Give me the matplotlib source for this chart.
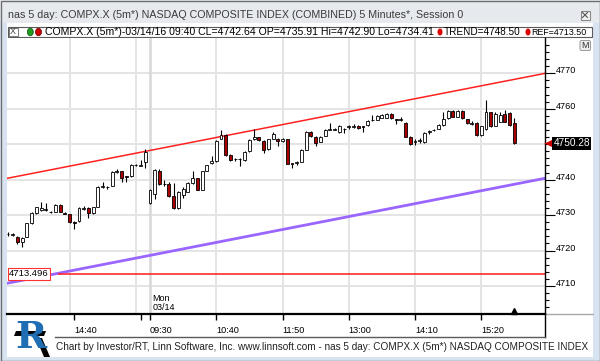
import matplotlib
matplotlib.use('Agg')
import matplotlib.pyplot as plt
from matplotlib.patches import Rectangle, Polygon, Ellipse, FancyBboxPatch
import numpy as np

plt.rcParams['font.family'] = ['Liberation Sans', 'DejaVu Sans']

# ---------------- data ----------------
bar_index = list(range(-30, 78))   # 5-minute bars; 0 = Monday 09:30
opens = [
    4724.6, 4724.5, 4723.9, 4722.5, 4723.9, 4727.7, 4730.5, 4731.4, 4731.3, 4731.0,
    4731.0, 4732.8, 4730.7, 4730.2, 4728.0, 4728.3, 4731.7, 4732.1, 4730.5, 4732.4,
    4737.8, 4737.9, 4738.3, 4742.1, 4742.3, 4740.9, 4741.0, 4744.1, 4743.9, 4745.1,
    4733.5, 4735.91, 4742.4, 4738.7, 4738.7, 4735.4, 4732.0, 4735.8, 4736.6, 4739.0,
    4740.4, 4737.2, 4742.4, 4744.6, 4745.3, 4751.6, 4752.6, 4747.0, 4745.7, 4745.9,
    4745.5, 4748.1, 4751.6, 4751.9, 4751.0, 4748.6, 4751.6, 4751.5, 4750.9, 4751.4,
    4744.6, 4744.6, 4745.1, 4748.4, 4753.4, 4752.1, 4750.7, 4752.4, 4754.1, 4754.1,
    4753.5, 4754.4, 4754.8, 4754.9, 4755.2, 4755.1, 4755.3, 4756.7, 4756.9, 4757.5,
    4757.5, 4758.6, 4757.0, 4756.9, 4756.1, 4752.1, 4750.6, 4751.0, 4750.7, 4753.4,
    4753.9, 4754.4, 4755.4, 4757.3, 4759.5, 4757.8, 4759.5, 4757.0, 4755.8, 4756.1,
    4752.6, 4754.2, 4759.0, 4755.2, 4756.4, 4758.6, 4758.8, 4755.9]
highs = [
    4725.1, 4725.0, 4724.2, 4723.8, 4727.9, 4730.9, 4732.4, 4733.8, 4733.3, 4731.2,
    4733.0, 4733.0, 4730.9, 4730.4, 4728.2, 4732.3, 4732.6, 4732.3, 4732.4, 4738.2,
    4739.4, 4738.1, 4742.3, 4743.0, 4742.5, 4741.1, 4744.3, 4744.4, 4745.5, 4748.6,
    4737.4, 4742.90, 4743.0, 4739.9, 4739.2, 4739.0, 4736.8, 4737.9, 4739.2, 4742.3,
    4740.6, 4742.4, 4744.2, 4746.8, 4751.2, 4754.0, 4752.8, 4747.2, 4746.1, 4746.1,
    4748.1, 4751.4, 4754.4, 4752.1, 4751.2, 4751.6, 4753.4, 4751.7, 4751.7, 4751.6,
    4744.8, 4745.3, 4748.6, 4753.7, 4753.8, 4752.2, 4752.3, 4754.3, 4755.9, 4754.5,
    4755.4, 4754.5, 4755.5, 4755.6, 4755.4, 4755.2, 4756.8, 4758.2, 4758.2, 4758.5,
    4758.8, 4758.8, 4757.2, 4757.6, 4756.4, 4752.2, 4751.5, 4751.8, 4753.5, 4754.1,
    4754.3, 4755.6, 4759.0, 4759.7, 4759.7, 4759.7, 4759.7, 4757.2, 4756.5, 4756.3,
    4755.2, 4762.4, 4759.2, 4759.0, 4759.2, 4759.7, 4759.0, 4757.4]
lows = [
    4724.2, 4724.0, 4721.8, 4720.9, 4723.7, 4727.5, 4730.3, 4731.2, 4731.1, 4730.6,
    4730.8, 4730.8, 4730.2, 4727.8, 4726.0, 4728.1, 4731.5, 4729.1, 4730.3, 4732.2,
    4737.6, 4737.5, 4738.1, 4741.9, 4739.2, 4739.4, 4740.8, 4743.9, 4743.8, 4743.4,
    4733.0, 4734.41, 4738.5, 4738.3, 4735.2, 4731.8, 4731.8, 4734.9, 4736.4, 4738.8,
    4737.0, 4737.0, 4742.3, 4744.4, 4745.1, 4751.4, 4746.8, 4745.3, 4745.3, 4743.8,
    4745.3, 4747.9, 4751.3, 4751.0, 4747.5, 4748.4, 4751.4, 4749.5, 4750.7, 4744.3,
    4743.3, 4744.1, 4744.9, 4748.3, 4752.1, 4749.5, 4750.5, 4752.2, 4754.0, 4753.9,
    4753.3, 4753.2, 4754.4, 4754.5, 4754.4, 4753.4, 4755.1, 4756.5, 4756.7, 4757.3,
    4757.3, 4757.1, 4755.8, 4756.5, 4751.9, 4749.7, 4749.8, 4750.4, 4750.2, 4753.0,
    4753.7, 4754.2, 4755.2, 4757.1, 4757.6, 4757.6, 4757.1, 4755.7, 4755.3, 4752.4,
    4752.4, 4754.0, 4754.8, 4755.0, 4756.2, 4756.2, 4755.2, 4750.1]
closes = [
    4724.7, 4724.6, 4722.5, 4723.6, 4727.7, 4730.7, 4732.2, 4732.1, 4731.7, 4730.9,
    4732.8, 4731.0, 4730.4, 4728.0, 4727.9, 4732.1, 4732.1, 4730.5, 4732.2, 4738.0,
    4738.3, 4737.8, 4742.1, 4742.3, 4740.6, 4740.8, 4744.1, 4744.2, 4744.0, 4747.7,
    4737.2, 4742.64, 4738.7, 4738.9, 4735.4, 4732.0, 4736.6, 4737.5, 4739.0, 4740.4,
    4737.2, 4742.3, 4744.1, 4745.2, 4751.0, 4752.6, 4747.0, 4745.5, 4745.9, 4745.8,
    4747.9, 4751.2, 4751.9, 4751.2, 4748.4, 4751.4, 4752.8, 4750.9, 4751.5, 4744.5,
    4744.4, 4745.0, 4748.4, 4753.5, 4752.4, 4750.4, 4752.1, 4754.1, 4754.2, 4754.3,
    4755.2, 4754.2, 4755.0, 4755.1, 4754.6, 4754.9, 4756.6, 4756.9, 4758.0, 4758.3,
    4758.6, 4757.3, 4756.8, 4757.1, 4752.1, 4750.0, 4750.8, 4751.2, 4753.2, 4753.6,
    4754.1, 4755.4, 4757.0, 4759.5, 4757.8, 4759.5, 4757.3, 4755.9, 4756.0, 4752.6,
    4755.0, 4759.0, 4755.0, 4758.6, 4758.3, 4756.4, 4755.4, 4750.28]

time_tick_pos = [-16, 0, 14, 28, 42, 56, 70]
time_tick_labels = ['14:40', '09:30', '10:40', '11:50', '13:00', '14:10', '15:20']
minor_time_ticks = [-2]
grid_x = [-17, -3, 14, 28, 42, 56, 70]
day_break = 0
price_ticks = [4710, 4720, 4730, 4740, 4750, 4760, 4770]
price_labels = ['4710', '4720', '4730', '4740', '', '4760', '4770']  # 4750 hidden by price tag
price_minor = list(range(4704, 4780, 2))

trend_upper = [(1, 4748.50), (77, 4768.3)]
trend_lower = [(1, 4718.9), (77, 4738.7)]
ref_level = 4713.496
ref_start = -19.4
last_price = 4750.28

title = "nas 5 day: COMPX.X (5m*) NASDAQ COMPOSITE INDEX (COMBINED) 5 Minutes*, Session 0"
legend_text = "COMPX.X (5m*)-03/14/16 09:40 CL=4742.64 OP=4735.91 Hi=4742.90 Lo=4734.41"
trend_text = "TREND=4748.50"
ref_text = "REF=4713.50"
footer = ("Chart by Investor/RT, Linn Software, Inc. www.linnsoft.com - nas 5 day: "
          "COMPX.X (5m*) NASDAQ COMPOSITE INDEX")

# ---------------- figure / window chrome ----------------
W, H = 600, 361
fig = plt.figure(figsize=(W / 100, H / 100), dpi=100)
fig.patch.set_facecolor('#e3e7ec')
bg = fig.add_axes([0, 0, 1, 1], zorder=0)
bg.set_xlim(0, W)
bg.set_ylim(H, 0)
bg.axis('off')

bg.add_patch(Rectangle((0, 0), W, 23, fc='#e6e9ee', ec='none'))
bg.add_patch(Rectangle((0, 23), 7, H - 23, fc='#d8e3f2', ec='none'))
bg.add_patch(Rectangle((593, 23), 7, H - 23, fc='#d8e3f2', ec='none'))
bg.add_patch(Rectangle((0, 357), W, 4, fc='#d8e3f2', ec='none'))
bg.add_patch(Rectangle((7, 23), 586, 334, fc='white', ec='none'))
bg.add_patch(Rectangle((0.5, 0.5), W - 1, H - 1, fill=False, ec='#6f6f6f', lw=1))

bg.text(8, 15.5, title, fontsize=7.65, color='#3a3a3a', va='center', ha='left')
# close button
bg.add_patch(Rectangle((580.5, 10.5), 9, 9, fc='#f2f2f2', ec='#8a8a8a', lw=0.8))
bg.plot([582.5, 587.5], [12.5, 17.5], color='#555', lw=0.8)
bg.plot([582.5, 587.5], [17.5, 12.5], color='#555', lw=0.8)

# legend strip
bg.add_patch(Rectangle((7.5, 26.5), 584, 10.5, fc='white', ec='#5a5a5a', lw=0.8))
bg.add_patch(Rectangle((8.5, 27.5), 9, 8.5, fc='white', ec='#7a7a7a', lw=0.7))
bg.text(13, 32, 'X', fontsize=6.5, color='#444', ha='center', va='center')
bg.add_patch(Ellipse((30.3, 32), 6, 7.5, fc='#1e9e1e', ec='#0a4a0a', lw=0.5))
bg.add_patch(Ellipse((38.5, 32), 6, 7.5, fc='#d00000', ec='#600000', lw=0.5))
bg.text(45, 32.3, legend_text, fontsize=7.55, color='black', va='center', ha='left')
bg.add_patch(Ellipse((440, 32), 5, 7, fc='#e00000', ec='none'))
bg.text(443.5, 32.3, trend_text, fontsize=7.2, color='black', va='center', ha='left')
bg.add_patch(Ellipse((528, 32), 5, 7, fc='#e00000', ec='none'))
bg.text(531.5, 32.3, ref_text, fontsize=6.4, color='black', va='center', ha='left')

# M button
bg.add_patch(FancyBboxPatch((580, 40.5), 10.5, 10, boxstyle='round,pad=0,rounding_size=1.5',
                            fc='#ececec', ec='#9a9a9a', lw=0.7, zorder=5))
bg.text(585.3, 45.8, 'M', fontsize=6.5, color='#333', ha='center', va='center', zorder=6)

# lower frame lines
bg.plot([545, 545], [314, 337], color='black', lw=1)
bg.plot([545, 593], [314.3, 314.3], color='#a8a8a8', lw=1)
bg.plot([55, 545], [336.7, 336.7], color='#5a5a5a', lw=1)
bg.text(56, 347, footer, fontsize=7.2, color='#222', va='center', ha='left')

# logo
bg.add_patch(Polygon([[16, 331], [46, 331], [44, 336], [14, 336]], closed=True, fc='black', ec='none'))
bg.add_patch(Polygon([[36, 338], [42, 338], [50, 357], [44, 357]], closed=True, fc='black', ec='none'))
bg.text(31, 337, 'R', fontsize=27, color='#1f6db3', fontweight='bold', family='DejaVu Serif',
        ha='center', va='center')

# ---------------- main chart axes ----------------
ax = fig.add_axes([7 / W, 1 - 314 / H, 538 / W, 276 / H], zorder=2)
ax.set_facecolor('white')
ax.set_xlim(-30.21, 83.46)
ax.set_ylim(4702.1, 4779.96)

for s in ['left', 'top']:
    ax.spines[s].set_visible(False)
ax.spines['right'].set_linewidth(1)
ax.spines['bottom'].set_linewidth(1.6)

# grid
for v in price_ticks:
    ax.axhline(v, color='#e4e4e4', lw=1.4, zorder=0)
for gx in grid_x:
    ax.axvline(gx, color='#e4e4e4', lw=1.4, zorder=0)
ax.axvline(day_break, color='#dadada', lw=2, zorder=0)

# trend lines
ax.axline(trend_upper[0], trend_upper[1], color='#ff2020', lw=1.1, zorder=2)
ax.axline(trend_lower[0], trend_lower[1], color='#9a66ff', lw=2.0, zorder=2)
ax.hlines(ref_level, ref_start, 83.46, color='#ff1a1a', lw=1.1, zorder=2)
ax.text(-29.8, ref_level, '4713.496', fontsize=6.8, color='black', va='center', ha='left',
        bbox=dict(fc='white', ec='#ff3030', lw=0.8, pad=1.0), zorder=6)

# candles
x = np.array(bar_index)
o = np.array(opens); h = np.array(highs); l = np.array(lows); c = np.array(closes)
up = c >= o
ax.vlines(x, l, h, color='black', lw=0.8, zorder=3)
ax.bar(x, np.maximum(np.abs(c - o), 0.08), bottom=np.minimum(o, c), width=0.62,
       color=['white' if u else '#a80000' for u in up], edgecolor='black',
       linewidth=0.6, zorder=4)

# Mon label
ax.text(0.55, 4706.5, 'Mon', fontsize=6.5, color='black', va='center', ha='left')
ax.text(0.55, 4703.9, '03/14', fontsize=6.5, color='black', va='center', ha='left')

# last-bar marker
ax.plot([bar_index[-1]], [4702.9], marker='^', ms=4.5, color='black', clip_on=False, zorder=6)

# right price axis
ax.yaxis.tick_right()
ax.set_yticks(price_ticks)
ax.set_yticklabels(price_labels)
ax.set_yticks(price_minor, minor=True)
ax.tick_params(axis='y', which='major', length=7.2, width=0.8, pad=0.6, labelsize=6.6,
               colors='black')
ax.tick_params(axis='y', which='minor', length=3.0, width=0.8)
for tk in ax.yaxis.get_major_ticks():
    tk.label2.set_va('baseline')

# time axis
ax.set_xticks(time_tick_pos)
ax.set_xticklabels(time_tick_labels)
ax.set_xticks(minor_time_ticks, minor=True)
ax.tick_params(axis='x', which='both', length=4.6, width=1, pad=4.0, labelsize=6.6)
for tk in ax.xaxis.get_major_ticks():
    tk.label1.set_ha('left')

# current price tag
ytr = ax.get_yaxis_transform()
ax.plot([1.0, 1.012], [last_price, last_price], color='#cc0000', lw=1, transform=ytr,
        clip_on=False, zorder=6)
ax.plot([1.0095], [last_price], marker='<', ms=6, color='#cc0000', transform=ytr,
        clip_on=False, zorder=6)
ax.text(1.0155, last_price, f'{last_price:.2f}', transform=ytr, fontsize=7.3, color='white',
        va='center', ha='left', bbox=dict(fc='black', ec='none', pad=1.1), zorder=7,
        clip_on=False)

fig.savefig('out.png', dpi=100, facecolor=fig.get_facecolor())
